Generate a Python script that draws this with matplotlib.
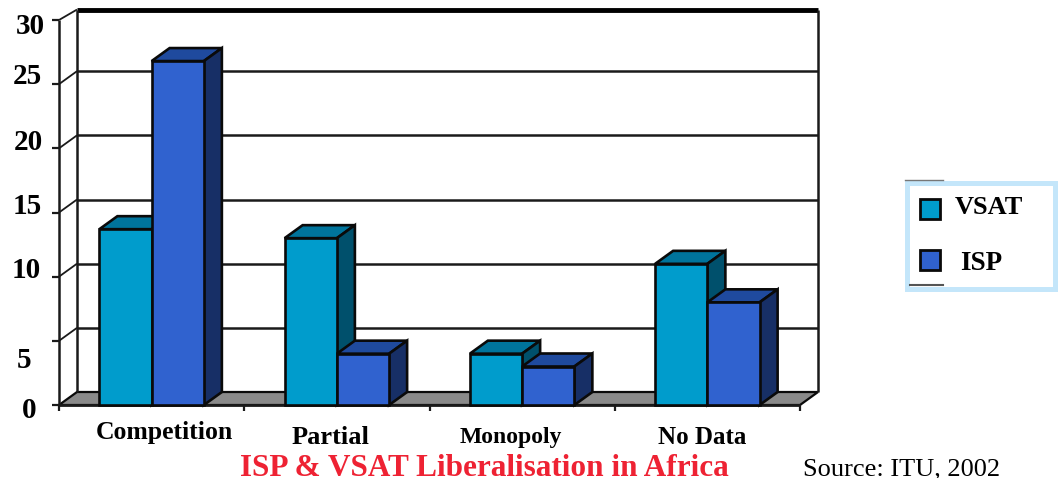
import matplotlib
matplotlib.use('Agg')
import matplotlib.pyplot as plt
from matplotlib.patches import Polygon, Rectangle
from matplotlib.lines import Line2D

categories = ['Competition', 'Partial', 'Monopoly', 'No Data']
vsat = [13.7, 13, 4, 11]
isp = [26.8, 4, 3, 8]
y_ticks = [0, 5, 10, 15, 20, 25, 30]

W, H = 1061, 478
plt.rcParams['font.family'] = ['Liberation Serif', 'DejaVu Serif']

fig = plt.figure(figsize=(W / 100, H / 100), dpi=100)
# front plane of the fake 3d box, in pixels of the reference
left, right, bottom, top = 59, 800, 405, 20
ax = fig.add_axes([left / W, 1 - bottom / H, (right - left) / W, (bottom - top) / H])
ax.set_xlim(0, 4)
ax.set_ylim(0, 30)
ax.axis('off')

# depth of the box, in data units
dx = 18 / ((right - left) / 4)
dy = 13 / ((bottom - top) / 30)
bar_w = 0.282
edge = '#0a0a0a'


def add(points, color, z=2, lw=1.9):
    ax.add_patch(Polygon(points, closed=True, facecolor=color, edgecolor=edge,
                         linewidth=lw, zorder=z, clip_on=False))


def line(xs, ys, lw=1.6, z=1, color='#1a1a1a'):
    ax.plot(xs, ys, color=color, lw=lw, zorder=z, clip_on=False, solid_capstyle='butt')


# floor
add([(0, 0), (4, 0), (4 + dx, dy), (dx, dy)], '#8a8a8a', z=1, lw=1.6)

# grid on the back wall with the little steps to the front ticks
wall_top = 30 + dy - 0.2
for t in y_ticks:
    if t == 30:
        line([dx, 4 + dx], [wall_top, wall_top], lw=3.5, color='black')
        line([0, dx], [t, wall_top], lw=1.3)
    elif t > 0:
        line([dx, 4 + dx], [t + dy, t + dy], lw=1.8)
        line([0, dx], [t, t + dy], lw=1.3)
    line([-0.04, 0], [t, t], lw=1.6)

line([0, 0], [0, 30], lw=1.8)
line([dx, dx], [dy, wall_top], lw=1.8)
line([4 + dx, 4 + dx], [dy, wall_top], lw=1.8)

# x axis ticks
for i in range(5):
    line([i, i], [0, -0.5], lw=1.6)
line([0, 4], [0, 0], lw=2)


def bar3d(x, v, front, top_c, side):
    add([(x, v), (x + bar_w, v), (x + bar_w + dx, v + dy), (x + dx, v + dy)], top_c)
    add([(x + bar_w, 0), (x + bar_w + dx, dy), (x + bar_w + dx, v + dy), (x + bar_w, v)], side)
    ax.add_patch(Rectangle((x, 0), bar_w, v, facecolor=front, edgecolor=edge,
                           linewidth=1.9, zorder=2, clip_on=False))


for i in range(len(categories)):
    start = i + 0.5 - bar_w
    bar3d(start, vsat[i], '#009ccc', '#00749c', '#00506c')
    bar3d(start + bar_w, isp[i], '#3062cf', '#1f4a9e', '#172f66')


def px_text(x, y, s, **kw):
    fig.text(x / W, 1 - y / H, s, va='center', **kw)


# y labels sit irregularly in the reference
label_x = [29, 24, 26, 27, 28, 27, 30]
label_y = [411, 361, 271, 207, 143, 77, 27]
for t, x, y in zip(y_ticks, label_x, label_y):
    px_text(x, y, str(t), ha='center', fontsize=21, fontweight='bold', color='black')

# category labels
cat_x = [164, 331, 511, 702]
cat_y = [433, 438, 437, 438]
cat_size = [18.5, 19, 17, 18]
for name, x, y, s in zip(categories, cat_x, cat_y, cat_size):
    px_text(x, y, name, ha='center', fontsize=s, fontweight='bold', color='black')

px_text(484, 468, 'ISP & VSAT Liberalisation in Africa', ha='center', fontsize=22.5,
        fontweight='bold', color='#ee2233')
px_text(902, 469, 'Source: ITU, 2002', ha='center', fontsize=19, color='black')

# legend box drawn by hand
fig.add_artist(Rectangle((906.5 / W, 1 - 288.5 / H), 148 / W, 106 / H, transform=fig.transFigure,
                         facecolor='white', edgecolor='#c4e6fa', linewidth=3.6))
fig.add_artist(Line2D([905 / W, 943 / W], [1 - 180 / H, 1 - 180 / H], color='#777777', lw=1))
fig.add_artist(Line2D([910 / W, 943 / W], [1 - 284.5 / H, 1 - 284.5 / H], color='#555555', lw=1.5))
fig.add_artist(Rectangle((920 / W, 1 - 219 / H), 20 / W, 20 / H, transform=fig.transFigure,
                         facecolor='#009ccc', edgecolor=edge, linewidth=2))
fig.add_artist(Rectangle((920 / W, 1 - 270 / H), 20 / W, 20 / H, transform=fig.transFigure,
                         facecolor='#3062cf', edgecolor=edge, linewidth=2))
px_text(955, 207, 'VSAT', ha='left', fontsize=19, fontweight='bold', color='black')
px_text(960, 263, 'ISP', ha='left', fontsize=19.5, fontweight='bold', color='black')

fig.savefig('out.png', dpi=100)
